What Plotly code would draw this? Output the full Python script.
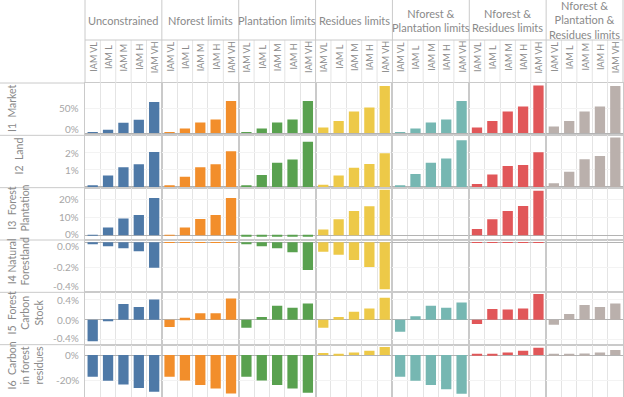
import plotly.graph_objects as go
from plotly.subplots import make_subplots

# ---------------- data ----------------
scenarios = ["Unconstrained", "Nforest limits", "Plantation limits", "Residues limits",
             "Nforest & Plantation limits", "Nforest & Residues limits",
             "Nforest & Plantation & Residues limits"]
scenario_headers = ["Unconstrained", "Nforest limits", "Plantation limits", "Residues limits",
                    "Nforest &<br>Plantation limits", "Nforest &<br>Residues limits",
                    "Nforest &<br>Plantation &<br>Residues limits"]
iam_levels = ["IAM VL", "IAM L", "IAM M", "IAM H", "IAM VH"]
indicator_headers = ["I1  Market", "I2  Land", "I3  Forest<br>Plantation",
                     "I4 Natural<br>Forestland", "I5  Forest<br>Carbon<br>Stock",
                     "I6  Carbon<br>in forest<br>residues"]
scenario_colors = ["#4e79a7", "#f28e2b", "#59a14f", "#edc948", "#76b7b2", "#e15759", "#bab0ac"]

# values in percent; one list per scenario, ordered by IAM level
i1_market = [
    [1.5, 6.6, 20.6, 26.6, 62],
    [1, 9, 21, 27, 64],
    [1, 9, 21, 27, 64],
    [11, 24, 43, 51, 94],
    [1, 9, 21, 27, 64],
    [11, 24, 43, 53, 95],
    [13, 24, 43, 53, 94],
]
i2_land = [
    [0.1, 0.66, 1.15, 1.32, 2.03],
    [0.1, 0.6, 1.15, 1.32, 2.07],
    [0.1, 0.7, 1.41, 1.59, 2.62],
    [0.13, 0.66, 1.12, 1.34, 1.96],
    [0.08, 0.76, 1.41, 1.65, 2.72],
    [0.17, 0.72, 1.22, 1.28, 2.02],
    [0.22, 0.89, 1.61, 1.8, 2.88],
]
i3_forest_plantation = [
    [0.3, 4.4, 9.4, 11.3, 20.7],
    [0.3, 4.4, 9.1, 11.3, 20.7],
    [-0.6, -0.3, -0.3, -0.3, -0.3],
    [3.3, 8.9, 13.5, 16.1, 25.3],
    [0, 0, 0, 0, 0],
    [3.5, 8.9, 13.5, 16.3, 24.8],
    [0, 0, 0, 0, 0],
]
i4_natural_forestland = [
    [-0.016, -0.032, -0.048, -0.072, -0.203],
    [-0.003, -0.003, -0.003, -0.003, -0.003],
    [-0.016, -0.032, -0.048, -0.08, -0.222],
    [-0.075, -0.099, -0.142, -0.198, -0.376],
    [0, 0, 0, 0, 0],
    [-0.003, -0.003, -0.003, -0.003, -0.003],
    [0, 0, 0, 0, 0],
]
i5_forest_carbon_stock = [
    [-0.43, -0.02, 0.317, 0.254, 0.408],
    [-0.146, 0.04, 0.128, 0.128, 0.428],
    [-0.16, 0.054, 0.28, 0.24, 0.328],
    [-0.16, 0.054, 0.16, 0.228, 0.44],
    [-0.24, 0.068, 0.28, 0.24, 0.348],
    [-0.086, 0.214, 0.208, 0.228, 0.514],
    [-0.1, 0.114, 0.294, 0.254, 0.328],
]
i6_carbon_forest_residues = [
    [-17.3, -20.5, -23.5, -26.4, -29.3],
    [-17.3, -20.3, -24.0, -26.7, -30.7],
    [-17.3, -20.3, -24.0, -26.7, -30.1],
    [1.6, 1.0, 2.1, 3.5, 6.4],
    [-17.3, -20.5, -24.0, -27.4, -31.0],
    [0.8, 0.8, 2.1, 3.5, 5.9],
    [0.3, 0.8, 1.3, 2.1, 4.0],
]
indicator_values = [i1_market, i2_land, i3_forest_plantation, i4_natural_forestland,
                    i5_forest_carbon_stock, i6_carbon_forest_residues]

tick_vals = [[0, 50], [1, 2], [0, 10, 20], [0, -0.2, -0.4], [0.4, 0, -0.4], [0, -20]]
tick_texts = [["0%", "50%"], ["1%", "2%"], ["0%", "10%", "20%"], ["0.0%", "-0.2%", "-0.4%"],
              ["0.4%", "0.0%", "-0.4%"], ["0%", "-20%"]]

# ---------------- layout geometry ----------------
W, H = 624, 397
y_ranges = [(-4.67, 100), (-0.04, 3.0), (-2.6, 26.5), (-0.4, 0.018), (-0.5, 0.55), (-33.6, 8.3)]
row_px = [83 + i * 314 / 6 for i in range(7)]
col_px = [85 + k * 538 / 7 for k in range(8)]
row_label_center = [108, 156, 208, 262, 313, 366]
row_label_x = [12, 18.5, 18.5, 18.5, 24.5, 24.5]

FONT = "Lato"
HEAD_COL = "#8a8a8a"
TICK_COL = "#a6a6a6"
SEP_COL = "#cacaca"
GRID_COL = "#e4e4e4"

NR, NC = len(indicator_values), len(scenarios)
fig = make_subplots(rows=NR, cols=NC, horizontal_spacing=0, vertical_spacing=0,
                    shared_yaxes=True)

def axis_index(r, c):
    return r * NC + c + 1

def suffix(i):
    return "" if i == 1 else str(i)

for r in range(NR):
    for c in range(NC):
        fig.add_trace(go.Bar(x=iam_levels, y=indicator_values[r][c],
                             marker=dict(color=scenario_colors[c], line=dict(width=0)),
                             name=scenarios[c], showlegend=False,
                             hovertemplate="%{x}: %{y}%<extra>" + scenarios[c] + "</extra>"),
                      row=r + 1, col=c + 1)
        i = axis_index(r, c)
        s = suffix(i)
        fig.layout["xaxis" + s].update(
            domain=[col_px[c] / W, col_px[c + 1] / W],
            type="category", categoryorder="array", categoryarray=iam_levels,
            range=[-0.5, 4.5], tickson="boundaries", showgrid=True, gridcolor=GRID_COL,
            gridwidth=1, showticklabels=False, ticks="", zeroline=False,
            showline=True, linecolor=SEP_COL, linewidth=1, mirror=True, fixedrange=True)
        fig.layout["yaxis" + s].update(
            domain=[1 - row_px[r + 1] / H, 1 - row_px[r] / H],
            range=list(y_ranges[r]), tickvals=tick_vals[r], showticklabels=False,
            ticks="", showgrid=True, gridcolor="#f3f3f3", gridwidth=1,
            zeroline=True, zerolinecolor="#b3b3b3", zerolinewidth=1,
            showline=True, linecolor=SEP_COL, linewidth=1, mirror=True, fixedrange=True)

annotations = []
shapes = []

# group headers
for c in range(NC):
    annotations.append(dict(text=scenario_headers[c], xref="x%s domain" % suffix(axis_index(0, c)),
                            x=0.5, yref="paper", y=1 - 20.5 / H, xanchor="center",
                            yanchor="middle", showarrow=False, align="center",
                            font=dict(family=FONT, size=11, color=HEAD_COL)))
    for j, lab in enumerate(iam_levels):
        annotations.append(dict(text=lab, xref="x%s" % suffix(axis_index(0, c)), x=lab,
                                yref="paper", y=1 - 57 / H, textangle=-90,
                                xanchor="center", yanchor="middle", showarrow=False,
                                font=dict(family=FONT, size=9, color=HEAD_COL)))
    # separators between IAM columns in the header
    for j in range(len(iam_levels) - 1):
        shapes.append(dict(type="line", xref="x%s" % suffix(axis_index(0, c)),
                           x0=j + 0.5, x1=j + 0.5, yref="paper",
                           y0=1 - 40 / H, y1=1 - 83 / H,
                           line=dict(color=GRID_COL, width=1)))

# group separators in header
for k in range(NC + 1):
    shapes.append(dict(type="line", xref="paper", x0=col_px[k] / W, x1=col_px[k] / W,
                       yref="paper", y0=1, y1=1 - 83 / H, line=dict(color=SEP_COL, width=1)))
shapes.append(dict(type="line", xref="paper", x0=col_px[0] / W, x1=col_px[-1] / W,
                   yref="paper", y0=1 - 40 / H, y1=1 - 40 / H, line=dict(color=SEP_COL, width=1)))
# row separators through the row-header area
for r in range(NR):
    shapes.append(dict(type="line", xref="paper", x0=0, x1=col_px[0] / W,
                       yref="paper", y0=1 - row_px[r] / H, y1=1 - row_px[r] / H,
                       line=dict(color=SEP_COL, width=1)))

# row headers and value tick labels
for r in range(NR):
    annotations.append(dict(text=indicator_headers[r], xref="paper", x=row_label_x[r] / W,
                            yref="paper", y=1 - row_label_center[r] / H, textangle=-90,
                            xanchor="center", yanchor="middle", showarrow=False, align="center",
                            font=dict(family=FONT, size=10.5, color=HEAD_COL)))
    lo, hi = y_ranges[r]
    top, bot = row_px[r], row_px[r + 1]
    for v, t in zip(tick_vals[r], tick_texts[r]):
        py = bot - (v - lo) / (hi - lo) * (bot - top)
        half = 6.5
        shift = 0
        if py + half > bot:
            shift = (py + half) - bot
        if py - half < top:
            shift = -(top - (py - half))
        annotations.append(dict(text=t, xref="paper", x=80.5 / W, xanchor="right",
                                yref="y%s" % suffix(axis_index(r, 0)), y=v, yanchor="middle",
                                yshift=shift, showarrow=False,
                                font=dict(family=FONT, size=10, color=TICK_COL)))

fig.update_layout(width=W, height=H, margin=dict(l=0, r=0, t=0, b=0),
                  paper_bgcolor="white", plot_bgcolor="white", bargap=0.33,
                  showlegend=False, annotations=annotations, shapes=shapes,
                  font=dict(family=FONT))

fig.write_html("out.html", config={"displayModeBar": False},
               post_script="document.body.style.margin='0px';document.body.style.padding='0px';")
